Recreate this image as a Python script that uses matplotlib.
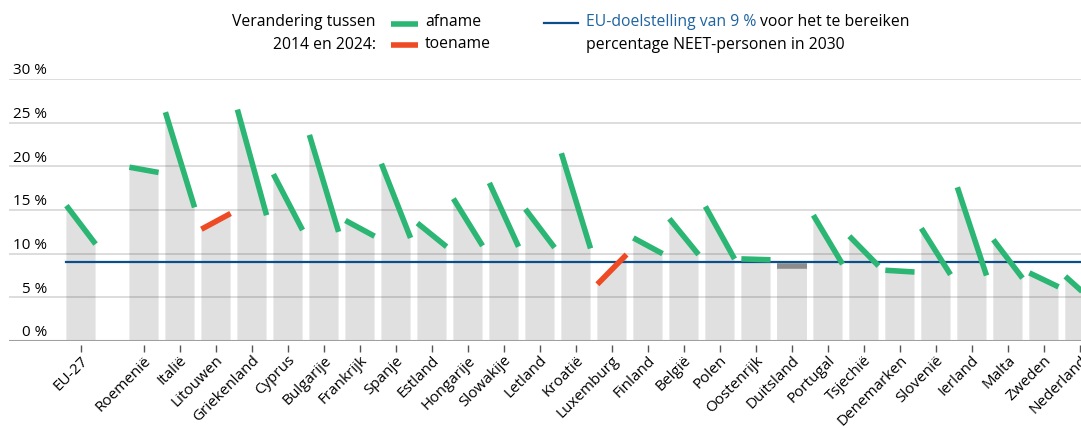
import matplotlib.pyplot as plt
import matplotlib.transforms as mtransforms
from matplotlib.lines import Line2D
from matplotlib.patches import Polygon

plt.rcParams['font.family'] = ['Open Sans', 'DejaVu Sans']

landen = ["EU-27", "Roemenië", "Italië", "Litouwen", "Griekenland", "Cyprus",
          "Bulgarije", "Frankrijk", "Spanje", "Estland", "Hongarije", "Slowakije",
          "Letland", "Kroatië", "Luxemburg", "Finland", "België", "Polen",
          "Oostenrijk", "Duitsland", "Portugal", "Tsjechië", "Denemarken",
          "Slovenië", "Ierland", "Malta", "Zweden", "Nederland"]
neet_2014 = [15.5, 19.9, 26.2, 12.8, 26.5, 19.1, 23.6, 13.8, 20.3, 13.5, 16.3,
             18.1, 15.1, 21.5, 6.5, 11.8, 14.0, 15.4, 9.4, 8.6, 14.4, 12.0,
             8.1, 12.9, 17.6, 11.6, 7.8, 7.4]
neet_2024 = [11.1, 19.3, 15.3, 14.6, 14.4, 12.7, 12.5, 12.0, 11.8, 10.8, 10.9,
             10.8, 10.7, 10.6, 9.9, 10.0, 9.9, 9.4, 9.3, 8.6, 8.8, 8.6,
             7.9, 7.6, 7.5, 7.2, 6.2, 4.4]
doel = 9
yticks = [0, 5, 10, 15, 20, 25, 30]

groen = "#2bb673"
rood = "#ee4b24"
blauw = "#0b4f8a"
grijs = "#e0e0e0"

# EU-27 staat iets apart van de landen
xpos = [-1.75] + list(range(len(landen) - 1))
w = 0.81

fig = plt.figure(figsize=(10.81, 4.28), dpi=100)
ax = fig.add_axes([9 / 1081, 87 / 428, 1 - 9 / 1081, 262 / 428])
ax.set_xlim(-3.75, 26.03)
ax.set_ylim(0, 30)

for x, a, b in zip(xpos, neet_2014, neet_2024):
    ax.add_patch(Polygon([(x - w / 2, 0), (x - w / 2, a), (x + w / 2, b), (x + w / 2, 0)],
                         closed=True, facecolor=grijs, edgecolor="none", zorder=1))
    if b < a:
        kleur, z = groen, 5
    elif b > a:
        kleur, z = rood, 5
    else:
        kleur, z = "#8c8c8c", 3
    ax.plot([x - w / 2, x + w / 2], [a, b], color=kleur, lw=4,
            solid_capstyle="butt", zorder=z)

for t in yticks[1:]:
    ax.axhline(t, color="black", alpha=0.15, lw=1.3, zorder=2)
    ax.text(-2.7, t + 0.55, f"{t} %", ha="right", va="baseline", fontsize=11)
ax.axhline(0, color="#a0a0a0", lw=1.5, zorder=2)
ax.text(-2.7, 0.55, "0 %", ha="right", va="baseline", fontsize=11)

ax.plot([xpos[0] - w / 2, 26.03], [doel, doel], color=blauw, lw=1.6, zorder=4)

# streepjes onder de as, iets los van de basislijn
ax.vlines(xpos, -1.27, -0.46, color="#555555", lw=1, clip_on=False)

for s in ax.spines.values():
    s.set_visible(False)
ax.set_yticks([])
ax.set_xticks(xpos)
ax.set_xticklabels(landen, rotation=45, ha="right", va="center",
                   rotation_mode="anchor", fontsize=11)
ax.tick_params(axis="x", length=0, pad=12.5)
verschuif = mtransforms.ScaledTranslation(5 / 100, 0, fig.dpi_scale_trans)
for lab in ax.get_xticklabels():
    lab.set_transform(lab.get_transform() + verschuif)

# legenda bovenaan
fs = 11.3
fig.text(376 / 1081, 1 - 22 / 428, "Verandering tussen", ha="right", va="center", fontsize=fs)
fig.text(376 / 1081, 1 - 45 / 428, "2014 en 2024:", ha="right", va="center", fontsize=fs)
fig.add_artist(Line2D([391 / 1081, 418 / 1081], [1 - 24 / 428] * 2, color=groen, lw=4,
                      solid_capstyle="butt"))
fig.add_artist(Line2D([391 / 1081, 418 / 1081], [1 - 45 / 428] * 2, color=rood, lw=4,
                      solid_capstyle="butt"))
fig.text(425 / 1081, 1 - 22 / 428, "afname", ha="left", va="center", fontsize=fs)
fig.text(425 / 1081, 1 - 44 / 428, "toename", ha="left", va="center", fontsize=fs)

fig.add_artist(Line2D([544 / 1081, 578 / 1081], [1 - 23 / 428] * 2, color=blauw, lw=1.6))
t1 = fig.text(586 / 1081, 1 - 22 / 428, "EU-doelstelling van 9 %", ha="left", va="center",
              fontsize=fs, color="#1f64a0")
fig.canvas.draw()
bb = t1.get_window_extent()
fig.text(bb.x1 / 1081 + 4 / 1081, 1 - 22 / 428, "voor het te bereiken", ha="left",
         va="center", fontsize=fs)
fig.text(586 / 1081, 1 - 45 / 428, "percentage NEET-personen in 2030", ha="left",
         va="center", fontsize=fs)

fig.savefig("out.png", dpi=100)
